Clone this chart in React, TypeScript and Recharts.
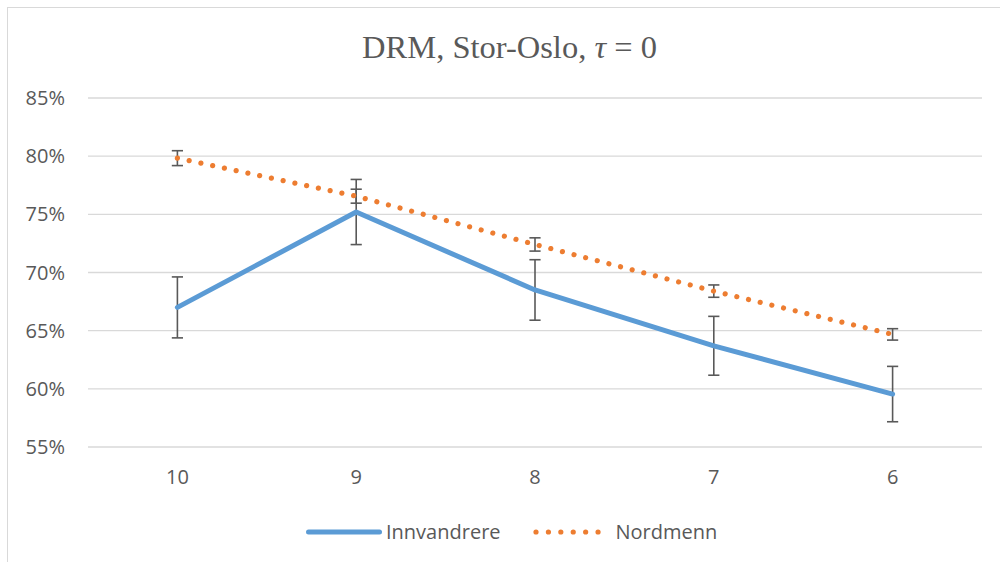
import { CartesianGrid, ErrorBar, Legend, Line, LineChart, XAxis, YAxis } from "recharts";

const CATEGORIES = ["10", "9", "8", "7", "6"];
const INNVANDRERE = [67.0, 75.2, 68.5, 63.7, 59.55];
const INNVANDRERE_ERR = [2.62, 2.8, 2.6, 2.53, 2.38];
const NORDMENN = [79.83, 76.56, 72.41, 68.4, 64.68];
const NORDMENN_ERR = [0.64, 0.6, 0.57, 0.53, 0.49];
const Y_TICKS = [55, 60, 65, 70, 75, 80, 85];

const BLUE = "#5B9BD5";
const ORANGE = "#ED7D31";
const TEXT = "#595959";
const GRID = "#D9D9D9";
const SANS = "'Open Sans', sans-serif";

const data = CATEGORIES.map((name, i) => ({
  name,
  innvandrere: INNVANDRERE[i],
  innErr: INNVANDRERE_ERR[i],
  nordmenn: NORDMENN[i],
  nordErr: NORDMENN_ERR[i],
}));

function ChartLegend() {
  return (
    <div
      style={{
        display: "flex",
        alignItems: "center",
        fontFamily: SANS,
        fontSize: 20,
        color: TEXT,
        whiteSpace: "nowrap",
      }}
    >
      <svg width={76} height={12} style={{ display: "block" }}>
        <line x1={2.5} y1={6} x2={73.5} y2={6} stroke={BLUE} strokeWidth={5} strokeLinecap="round" />
      </svg>
      <span style={{ marginLeft: 4 }}>Innvandrere</span>
      <svg width={70} height={12} style={{ display: "block", marginLeft: 31 }}>
        <line
          x1={4}
          y1={6}
          x2={67}
          y2={6}
          stroke={ORANGE}
          strokeWidth={5.2}
          strokeLinecap="round"
          strokeDasharray="0.01 12.4"
        />
      </svg>
      <span style={{ marginLeft: 14 }}>Nordmenn</span>
    </div>
  );
}

export default function App() {
  return (
    <div
      style={{
        position: "absolute",
        left: 0,
        top: 0,
        width: 1000,
        height: 562,
        overflow: "hidden",
        background: "#fff",
      }}
    >
      <div
        style={{
          position: "absolute",
          left: 7,
          top: 7,
          width: 1100,
          height: 700,
          border: `1px solid ${GRID}`,
        }}
      />
      <div
        style={{
          position: "absolute",
          left: 0,
          top: 31,
          width: 1019,
          textAlign: "center",
          fontFamily: "'Liberation Serif', 'Times New Roman', serif",
          fontSize: 32.5,
          lineHeight: "32px",
          color: TEXT,
          whiteSpace: "nowrap",
        }}
      >
        DRM, Stor-Oslo, <i>τ</i> = 0
      </div>
      <div style={{ position: "absolute", left: 0, top: 0 }}>
        <LineChart
          width={1000}
          height={562}
          data={data}
          margin={{ top: 98, right: 18, left: 0, bottom: 75 }}
        >
          <CartesianGrid vertical={false} stroke={GRID} strokeWidth={1.3} />
          <XAxis
            dataKey="name"
            height={40}
            padding={{ left: 89.4, right: 89.4 }}
            axisLine={false}
            tickLine={false}
            tickSize={0}
            tickMargin={23}
            tick={{ fill: TEXT, fontSize: 20, fontFamily: SANS }}
          />
          <YAxis
            width={88}
            domain={[55, 85]}
            ticks={Y_TICKS}
            tickFormatter={(v) => `${v}%`}
            axisLine={false}
            tickLine={false}
            tickSize={0}
            tickMargin={23}
            tick={{ fill: TEXT, fontSize: 20, fontFamily: SANS }}
          />
          <Legend
            layout="horizontal"
            verticalAlign="middle"
            align="center"
            wrapperStyle={{ left: 306, top: 518, width: "auto", height: "auto" }}
            content={() => <ChartLegend />}
          />
          <Line
            dataKey="innvandrere"
            name="Innvandrere"
            stroke={BLUE}
            strokeWidth={5}
            strokeLinecap="round"
            strokeLinejoin="round"
            dot={false}
            activeDot={false}
            isAnimationActive={false}
          >
            <ErrorBar dataKey="innErr" direction="y" width={5.6} stroke={TEXT} strokeWidth={1.6} />
          </Line>
          <Line
            dataKey="nordmenn"
            name="Nordmenn"
            stroke={ORANGE}
            strokeWidth={5.2}
            strokeLinecap="round"
            strokeDasharray="0.01 12"
            dot={false}
            activeDot={false}
            isAnimationActive={false}
          >
            <ErrorBar dataKey="nordErr" direction="y" width={5.6} stroke={TEXT} strokeWidth={1.6} />
          </Line>
        </LineChart>
      </div>
    </div>
  );
}
